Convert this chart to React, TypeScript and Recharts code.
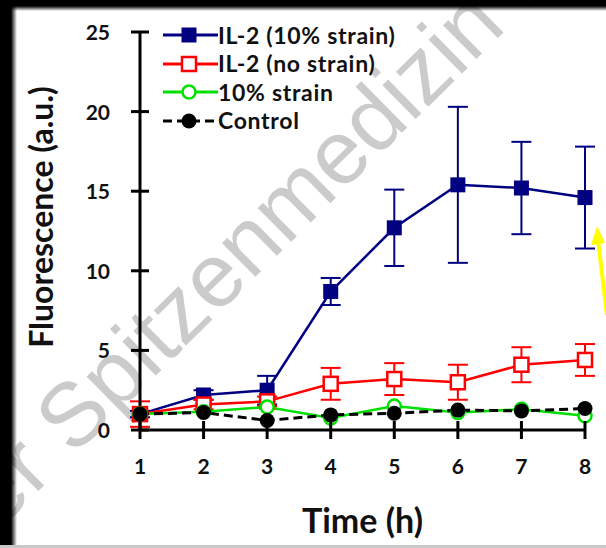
import React from "react";
import { LineChart, Line, XAxis, YAxis, ErrorBar, Label } from "recharts";

const hours = [1, 2, 3, 4, 5, 6, 7, 8];
const il2Strain = [1.0, 2.2, 2.5, 8.7, 12.7, 15.4, 15.2, 14.6];
const il2StrainErr = [0.2, 0.3, 0.9, 0.85, 2.4, 4.9, 2.9, 3.2];
const il2NoStrain = [1.0, 1.6, 1.8, 2.9, 3.2, 3.0, 4.1, 4.4];
const il2NoStrainErr = [0.8, 0.3, 0.3, 1.0, 1.0, 1.1, 1.1, 1.0];
const strainOnly = [1.0, 1.15, 1.45, 0.75, 1.5, 1.1, 1.3, 0.9];
const control = [1.0, 1.1, 0.6, 0.95, 1.05, 1.25, 1.2, 1.35];
const yTicks = [0, 5, 10, 15, 20, 25];

const data = hours.map((h, i) => ({
  h,
  il2Strain: il2Strain[i],
  il2StrainErr: il2StrainErr[i],
  il2NoStrain: il2NoStrain[i],
  il2NoStrainErr: il2NoStrainErr[i],
  strainOnly: strainOnly[i],
  control: control[i],
}));

const FONT = "Lato, 'Open Sans', sans-serif";

type Kind = "filledSquare" | "openSquare" | "openCircle" | "filledCircle";

const series: { key: string; name: string; color: string; kind: Kind; dash?: string; err?: string }[] = [
  { key: "il2Strain", name: "IL-2 (10% strain)", color: "#000080", kind: "filledSquare", err: "il2StrainErr" },
  { key: "il2NoStrain", name: "IL-2 (no strain)", color: "#ff0000", kind: "openSquare", err: "il2NoStrainErr" },
  { key: "strainOnly", name: "10% strain", color: "#00e000", kind: "openCircle" },
  { key: "control", name: "Control", color: "#000000", kind: "filledCircle", dash: "9 5" },
];

const markerShape = (kind: Kind, color: string, cx: number, cy: number, key?: any) => {
  switch (kind) {
    case "filledSquare":
      return <rect key={key} x={cx - 7.5} y={cy - 7.5} width={15} height={15} fill={color} />;
    case "openSquare":
      return (
        <rect key={key} x={cx - 7} y={cy - 7} width={14} height={14} fill="#fff" stroke={color} strokeWidth={2.5} />
      );
    case "openCircle":
      return <circle key={key} cx={cx} cy={cy} r={6.5} fill="#fff" stroke={color} strokeWidth={2.5} />;
    default:
      return <circle key={key} cx={cx} cy={cy} r={7.5} fill={color} />;
  }
};

const dotFor = (kind: Kind, color: string) => (props: any) => {
  const { cx, cy, index } = props;
  if (cx == null || cy == null) return <g key={index} />;
  return markerShape(kind, color, cx, cy, index);
};

const XTick = (props: any) => {
  const { x, y, payload } = props;
  const axisY = y - 28;
  return (
    <g>
      <line x1={x} x2={x} y1={axisY - 9} y2={axisY + 9} stroke="#000" strokeWidth={3} />
      <text x={x} y={axisY + 44} textAnchor="middle" fontFamily={FONT} fontWeight={700} fontSize={21} fill="#111">
        {payload.value}
      </text>
    </g>
  );
};

const YTick = (props: any) => {
  const { x, y, payload } = props;
  const axisX = x + 28;
  return (
    <g>
      <line x1={axisX - 9} x2={axisX + 9} y1={y} y2={y} stroke="#000" strokeWidth={3} />
      <text x={axisX - 30} y={y + 8} textAnchor="end" fontFamily={FONT} fontWeight={700} fontSize={21} fill="#111">
        {payload.value}
      </text>
    </g>
  );
};

// legend drawn as plain html so that it takes no room from the plot
const ChartLegend = () => (
  <div style={{ position: "absolute", left: 163, top: 21, display: "flex", flexDirection: "column" }}>
    {series.map((s) => (
      <div key={s.key} style={{ display: "flex", alignItems: "center", height: 28.5 }}>
        <svg width={55} height={20} style={{ display: "block" }}>
          <line x1={0} x2={55} y1={10} y2={10} stroke={s.color} strokeWidth={3} strokeDasharray={s.dash} />
          {markerShape(s.kind, s.color, 26, 10)}
        </svg>
        <span
          style={{
            fontFamily: FONT,
            fontWeight: 700,
            fontSize: 23,
            letterSpacing: 0.7,
            color: "#111",
            lineHeight: 1,
            whiteSpace: "nowrap",
          }}
        >
          {s.name}
        </span>
      </div>
    ))}
  </div>
);

export default function App() {
  return (
    <div style={{ position: "absolute", left: 0, top: 0, width: 606, height: 548, background: "#fff", overflow: "hidden" }}>
      <svg width={606} height={548} style={{ position: "absolute", left: 0, top: 0 }}>
        <text
          x={73}
          y={457}
          transform="rotate(-44.6 73 457)"
          fontFamily="'Liberation Sans', Arial, sans-serif"
          fontSize={90}
          fill="#cbcbcb"
        >
          <tspan dx={-105}>er Spitzenmedizin 2</tspan>
        </text>
      </svg>
      <div style={{ position: "absolute", left: 0, top: 0 }}>
        <LineChart width={606} height={548} data={data} margin={{ top: 32, right: 21, left: 80, bottom: 88 }}>
          <XAxis
            dataKey="h"
            type="number"
            domain={[1, 8]}
            ticks={hours}
            height={30}
            tickSize={8}
            tickMargin={20}
            tickLine={false}
            axisLine={{ stroke: "#000", strokeWidth: 3 }}
            tick={<XTick />}
          >
            <Label
              content={(p: any) => {
                const vb = p.viewBox || {};
                return (
                  <text
                    x={vb.x + vb.width / 2}
                    y={vb.y + 103}
                    textAnchor="middle"
                    fontFamily={FONT}
                    fontWeight={700}
                    fontSize={34}
                    fill="#111"
                  >
                    Time (h)
                  </text>
                );
              }}
            />
          </XAxis>
          <YAxis
            type="number"
            domain={[0, 25]}
            ticks={yTicks}
            width={60}
            tickSize={8}
            tickMargin={20}
            tickLine={false}
            axisLine={{ stroke: "#000", strokeWidth: 3 }}
            tick={<YTick />}
          >
            <Label
              content={(p: any) => {
                const vb = p.viewBox || {};
                const cx = vb.x - 27;
                const cy = vb.y + vb.height / 2 - 14;
                return (
                  <text
                    x={cx}
                    y={cy}
                    transform={`rotate(-90 ${cx} ${cy})`}
                    textAnchor="middle"
                    fontFamily={FONT}
                    fontWeight={700}
                    fontSize={32}
                    fill="#111"
                  >
                    Fluorescence (a.u.)
                  </text>
                );
              }}
            />
          </YAxis>
          {series.map((s) => (
            <Line
              key={s.key}
              dataKey={s.key}
              name={s.name}
              stroke={s.color}
              strokeWidth={s.dash ? 3 : 2.5}
              strokeDasharray={s.dash}
              dot={dotFor(s.kind, s.color)}
              activeDot={false}
              isAnimationActive={false}
            >
              {s.err && <ErrorBar dataKey={s.err} direction="y" width={10} strokeWidth={2} stroke={s.color} />}
            </Line>
          ))}
        </LineChart>
      </div>
      <ChartLegend />
      <svg width={606} height={548} style={{ position: "absolute", left: 0, top: 0 }}>
        <polygon points="597,226 591,245 605,243" fill="#ffff00" />
        <line x1={598} y1={240} x2={607} y2={315} stroke="#ffff00" strokeWidth={4} />
      </svg>
      <div
        style={{
          position: "absolute",
          left: 0,
          top: 0,
          width: 17,
          height: 548,
          background: "linear-gradient(to right, #000 0px, #000 11px, rgba(0,0,0,0) 17px)",
        }}
      />
      <div
        style={{
          position: "absolute",
          left: 0,
          top: 0,
          width: 606,
          height: 11,
          background: "linear-gradient(to bottom, #000 0px, #000 6px, rgba(0,0,0,0) 11px)",
        }}
      />
      <div style={{ position: "absolute", left: 0, top: 545, width: 606, height: 3, background: "#c8c8c8" }} />
    </div>
  );
}
